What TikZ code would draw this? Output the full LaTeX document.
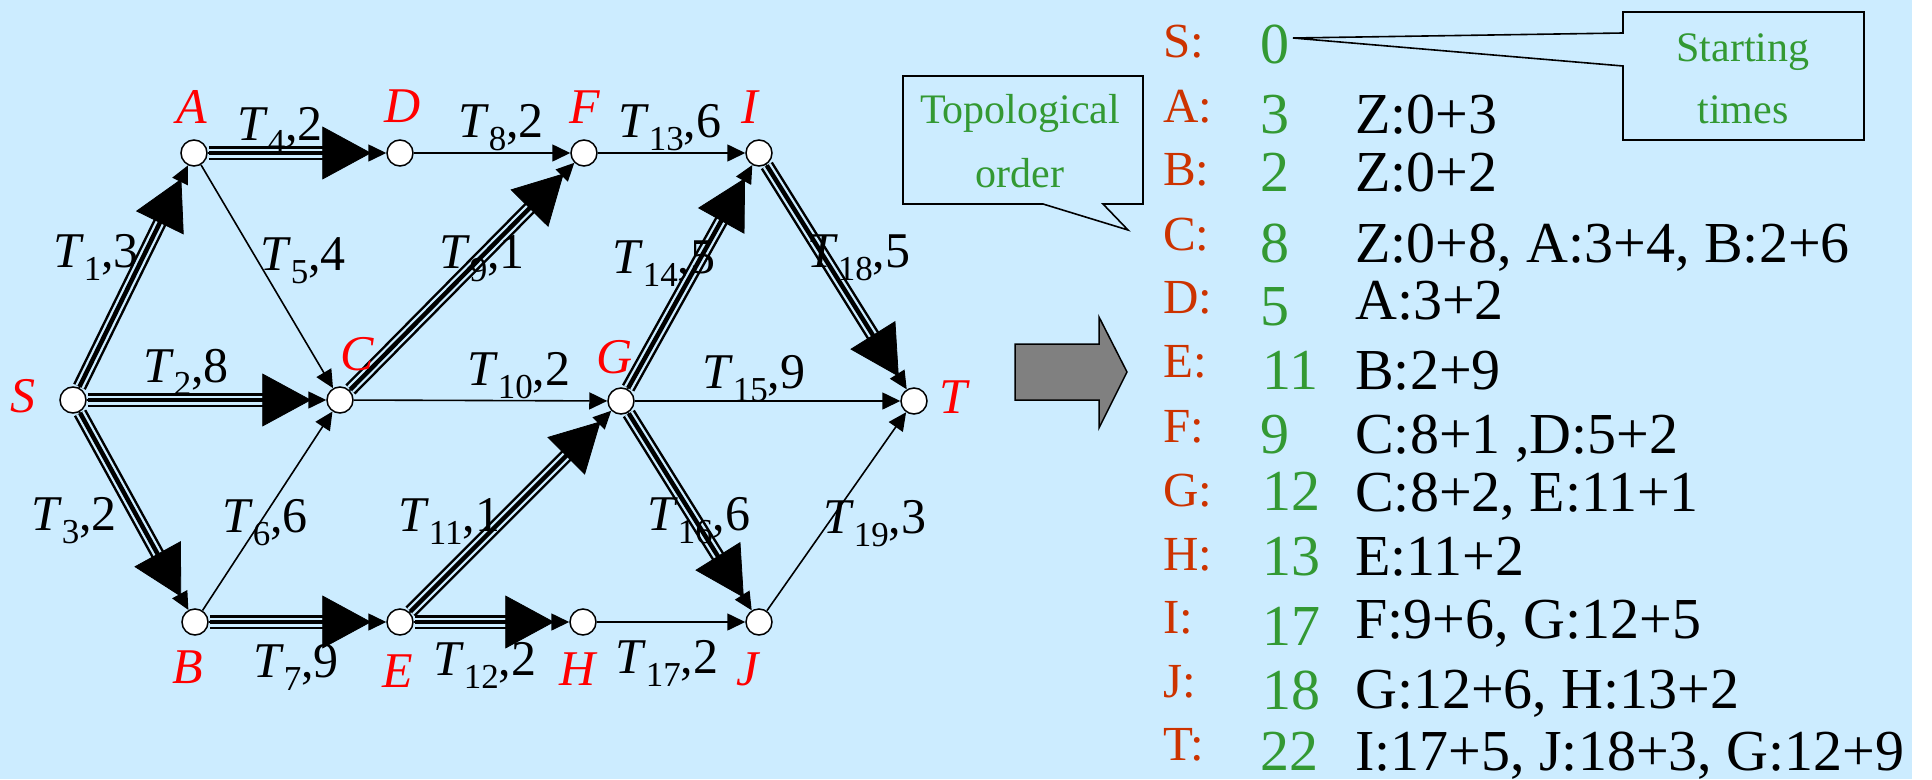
\documentclass[tikz,border=0pt]{standalone}
\usepackage{fontspec}
\setmainfont{Liberation Serif}
\usetikzlibrary{arrows.meta}
\definecolor{bg}{RGB}{204,236,255}
\definecolor{lblred}{RGB}{255,0,0}
\definecolor{rowlbl}{RGB}{204,51,0}
\definecolor{valgreen}{RGB}{51,153,51}
\definecolor{arrowgray}{RGB}{128,128,128}
\newcommand{\edgelbl}[2]{\textit{T}\raisebox{-13pt}{\fontsize{35}{35}\selectfont #1},#2}
\begin{document}
\begin{tikzpicture}[x=1pt,y=-1pt,
  vtx/.style={circle,draw,fill=white,line width=1.5pt,minimum size=26pt,inner sep=0pt},
  vname/.style={text=lblred,font=\fontsize{50}{50}\selectfont\itshape,anchor=base,inner sep=0pt},
  elbl/.style={font=\fontsize{50}{50}\selectfont,anchor=base west,inner sep=0pt},
  edgeplain/.style={line width=1.6pt,-{Triangle[length=18pt,width=17pt]}},
  tripouter/.style={line width=14pt,shorten >=62pt,shorten <=1pt},
  tripgap/.style={draw=bg,line width=9pt,shorten >=62pt,shorten <=1pt},
  tripcore/.style={line width=4.5pt,shorten >=62pt,shorten <=1pt},
  bigtip/.style={line width=0.8pt,shorten >=15pt,-{Triangle[length=49pt,width=53pt]}},
  rowname/.style={text=rowlbl,font=\fontsize{49}{49}\selectfont,anchor=base west,inner sep=0pt},
  rowval/.style={text=valgreen,font=\fontsize{58}{58}\selectfont,anchor=base west,inner sep=0pt},
  rowexpr/.style={font=\fontsize{58}{58}\selectfont,anchor=base west,inner sep=0pt},
  calltext/.style={text=valgreen,font=\fontsize{42}{42}\selectfont,anchor=base,inner sep=0pt},
  callout/.style={draw,line width=1.6pt,line join=miter}
]
\useasboundingbox (0,0) rectangle (1932,779);
\fill[white] (0,0) rectangle (1932,779);
\fill[bg] (0,0) rectangle (1912,779);

% vertices
\node[vtx] (S) at (73,400) {};
\node[vtx] (A) at (194,153) {};
\node[vtx] (D) at (400,153) {};
\node[vtx] (F) at (584,153) {};
\node[vtx] (I) at (759,153) {};
\node[vtx] (C) at (340,400) {};
\node[vtx] (G) at (621,401) {};
\node[vtx] (T) at (914,401) {};
\node[vtx] (B) at (195,622) {};
\node[vtx] (E) at (400,622) {};
\node[vtx] (H) at (583,622) {};
\node[vtx] (J) at (759,622) {};

% plain edges
\foreach \u/\v in {S/A,S/C,S/B,A/D,A/C,B/C,B/E,D/F,C/F,C/G,E/G,E/H,F/I,G/I,G/T,G/J,H/J,I/T,J/T}{
  \draw[edgeplain] (\u) -- (\v);
}
% critical edges
\foreach \u/\v in {S/A,S/C,S/B,A/D,C/F,B/E,E/G,E/H,G/I,I/T,G/J}{
  \draw[tripouter] (\u) -- (\v);
  \draw[tripgap] (\u) -- (\v);
  \draw[tripcore] (\u) -- (\v);
  \draw[bigtip] (\u) -- (\v);
}

% vertex names
\node[vname] (nA) at (192,123) {A};
\node[vname] (nD) at (403,122) {D};
\node[vname] (nF) at (585,123) {F};
\node[vname] (nI) at (750,123) {I};
\node[vname] (nS) at (23,412) {S};
\node[vname] (nC) at (357,370) {C};
\node[vname] (nG) at (615,373) {G};
\node[vname] (nT) at (953,413) {T};
\node[vname] (nB) at (188,683) {B};
\node[vname] (nE) at (398,687) {E};
\node[vname] (nH) at (578,685) {H};
\node[vname] (nJ) at (748,685) {J};

% edge labels
\node[elbl] (e1) at (53,267) {\edgelbl{1}{3}};
\node[elbl] (e2) at (143,382) {\edgelbl{2}{8}};
\node[elbl] (e3) at (31,530) {\edgelbl{3}{2}};
\node[elbl] (e4) at (237,140) {\edgelbl{4}{2}};
\node[elbl] (e5) at (260,270) {\edgelbl{5}{4}};
\node[elbl] (e6) at (222,532) {\edgelbl{6}{6}};
\node[elbl] (e7) at (253,677) {\edgelbl{7}{9}};
\node[elbl] (e8) at (458,137) {\edgelbl{8}{2}};
\node[elbl] (e9) at (439,268) {\edgelbl{9}{1}};
\node[elbl] (e10) at (467,385) {\edgelbl{10}{2}};
\node[elbl] (e11) at (398,531) {\edgelbl{11}{1}};
\node[elbl] (e12) at (433,675) {\edgelbl{12}{2}};
\node[elbl] (e13) at (618,137) {\edgelbl{13}{6}};
\node[elbl] (e14) at (612,273) {\edgelbl{14}{5}};
\node[elbl] (e15) at (702,388) {\edgelbl{15}{9}};
\node[elbl] (e16) at (647,530) {\edgelbl{16}{6}};
\node[elbl] (e17) at (615,673) {\edgelbl{17}{2}};
\node[elbl] (e18) at (807,267) {\edgelbl{18}{5}};
\node[elbl] (e19) at (823,533) {\edgelbl{19}{3}};

% big gray arrow
\draw[fill=arrowgray,line width=1.5pt,line join=miter]
  (1015,344) -- (1099,344) -- (1099,317) -- (1127,372) -- (1099,428) -- (1099,400) -- (1015,400) -- cycle;

% topological order callout
\draw[callout] (903,76) -- (1143,76) -- (1143,204) -- (1103,204) -- (1128,230) -- (1043,204) -- (903,204) -- cycle;
\node[calltext] (topo1) at (1020,123) {Topological};
\node[calltext] (topo2) at (1020,187) {order};

% list
\node[rowname] (rS) at (1163,57) {S:};
\node[rowname] (rA) at (1163,122) {A:};
\node[rowname] (rB) at (1163,185) {B:};
\node[rowname] (rC) at (1163,250) {C:};
\node[rowname] (rD) at (1163,313) {D:};
\node[rowname] (rE) at (1163,377) {E:};
\node[rowname] (rF) at (1163,442) {F:};
\node[rowname] (rG) at (1163,506) {G:};
\node[rowname] (rH) at (1163,570) {H:};
\node[rowname] (rI) at (1163,633) {I:};
\node[rowname] (rJ) at (1163,697) {J:};
\node[rowname] (rT) at (1163,760) {T:};

\node[rowval] (vS) at (1260,63) {0};
\node[rowval] (vA) at (1260,133) {3};
\node[rowval] (vB) at (1260,191) {2};
\node[rowval] (vC) at (1260,262) {8};
\node[rowval] (vD) at (1260,325) {5};
\node[rowval] (vE) at (1262,389) {11};
\node[rowval] (vF) at (1260,453) {9};
\node[rowval] (vG) at (1262,510) {12};
\node[rowval] (vH) at (1262,575) {13};
\node[rowval] (vI) at (1262,645) {17};
\node[rowval] (vJ) at (1262,709) {18};
\node[rowval] (vT) at (1260,770) {22};

\node[rowexpr] (xA) at (1355,133) {Z:0+3};
\node[rowexpr] (xB) at (1355,191) {Z:0+2};
\node[rowexpr] (xC) at (1355,262) {Z:0+8, A:3+4, B:2+6};
\node[rowexpr] (xD) at (1355,319) {A:3+2};
\node[rowexpr] (xE) at (1355,389) {B:2+9};
\node[rowexpr] (xF) at (1355,453) {C:8+1 ,D:5+2};
\node[rowexpr] (xG) at (1355,511) {C:8+2, E:11+1};
\node[rowexpr] (xH) at (1355,575) {E:11+2};
\node[rowexpr] (xI) at (1355,638) {F:9+6, G:12+5};
\node[rowexpr] (xJ) at (1355,708) {G:12+6, H:13+2};
\node[rowexpr] (xT) at (1355,770) {I:17+5, J:18+3, G:12+9};

% starting times callout
\coordinate (ptip) at (1293,38);
\draw[callout] (1623,12) -- (1864,12) -- (1864,140) -- (1623,140) -- (1623,66) -- (ptip) -- (1623,33) -- cycle;
\node[calltext] (st1) at (1743,61) {Starting};
\node[calltext] (st2) at (1743,123) {times};
\end{tikzpicture}
\end{document}
